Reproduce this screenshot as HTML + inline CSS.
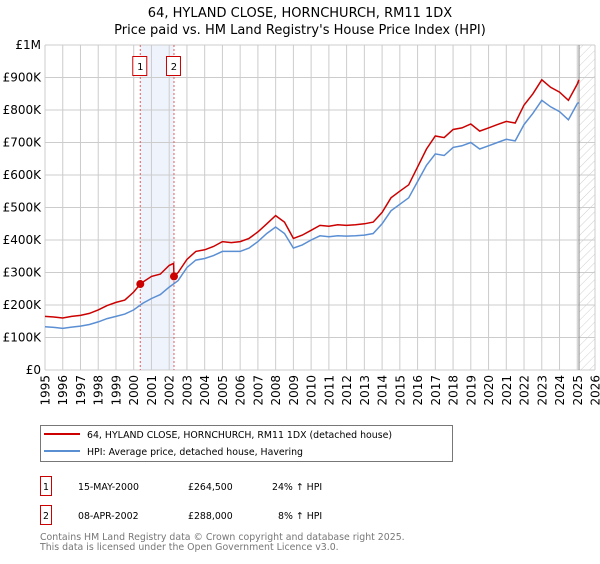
<!DOCTYPE html>
<html><head><meta charset="utf-8">
<style>
body{margin:0;background:#fff;font-family:"DejaVu Sans","Liberation Sans",sans-serif;}
svg text{font-family:"DejaVu Sans","Liberation Sans",sans-serif;}
</style></head>
<body>
<svg id="chart" width="600" height="560" viewBox="0 0 600 560" xmlns="http://www.w3.org/2000/svg">
<defs>
<pattern id="hatch" patternUnits="userSpaceOnUse" width="6" height="6" patternTransform="rotate(45)">
<line x1="0" y1="0" x2="0" y2="6" stroke="#bbb" stroke-width="0.7"/>
</pattern>
</defs>
<text x="300" y="17" text-anchor="middle" font-size="13">64, HYLAND CLOSE, HORNCHURCH, RM11 1DX</text>
<text x="300" y="34" text-anchor="middle" font-size="13">Price paid vs. HM Land Registry's House Price Index (HPI)</text>
<g id="plot"></g>
<g>
<rect x="40.5" y="425.5" width="412" height="36" fill="#fff" stroke="#777"/>
<line x1="44" y1="434" x2="80" y2="434" stroke="#cc0000" stroke-width="2"/>
<text x="87" y="438" font-size="9.4">64, HYLAND CLOSE, HORNCHURCH, RM11 1DX (detached house)</text>
<line x1="44" y1="451" x2="80" y2="451" stroke="#5b8fd4" stroke-width="2"/>
<text x="87" y="455" font-size="9.4">HPI: Average price, detached house, Havering</text>
</g>
<g font-size="9.4">
<rect x="40.5" y="476.5" width="11" height="19" fill="#fff" stroke="#cc0000"/>
<text x="46" y="490" text-anchor="middle">1</text>
<text x="78" y="490">15-MAY-2000</text>
<text x="188" y="490">£264,500</text>
<text x="272" y="490">24% ↑ HPI</text>
<rect x="40.5" y="505.5" width="11" height="19" fill="#fff" stroke="#cc0000"/>
<text x="46" y="519" text-anchor="middle">2</text>
<text x="78" y="519">08-APR-2002</text>
<text x="188" y="519">£288,000</text>
<text x="278" y="519">8% ↑ HPI</text>
</g>
<text x="40" y="540" font-size="9.4" fill="#777">Contains HM Land Registry data © Crown copyright and database right 2025.</text>
<text x="40" y="550" font-size="9.4" fill="#777">This data is licensed under the Open Government Licence v3.0.</text>
</svg>
<script>
const hpiYears=[1995,1995.5,1996,1996.5,1997,1997.5,1998,1998.5,1999,1999.5,2000,2000.5,2001,2001.5,2002,2002.5,2003,2003.5,2004,2004.5,2005,2005.5,2006,2006.5,2007,2007.5,2008,2008.5,2009,2009.5,2010,2010.5,2011,2011.5,2012,2012.5,2013,2013.5,2014,2014.5,2015,2015.5,2016,2016.5,2017,2017.5,2018,2018.5,2019,2019.5,2020,2020.5,2021,2021.5,2022,2022.5,2023,2023.5,2024,2024.5,2025,2025.1];
const hpiValues=[133,131,128,132,135,140,148,158,165,172,185,205,220,232,255,275,315,338,343,352,365,365,365,375,395,420,440,420,375,385,400,413,410,413,412,413,415,420,450,490,510,530,580,630,665,660,685,690,700,680,690,700,710,705,755,790,830,810,795,770,820,823];
const priceYears=[1995,1995.5,1996,1996.5,1997,1997.5,1998,1998.5,1999,1999.5,2000,2000.37,2000.5,2001,2001.5,2002,2002.25,2002.27,2002.5,2003,2003.5,2004,2004.5,2005,2005.5,2006,2006.5,2007,2007.5,2008,2008.5,2009,2009.5,2010,2010.5,2011,2011.5,2012,2012.5,2013,2013.5,2014,2014.5,2015,2015.5,2016,2016.5,2017,2017.5,2018,2018.5,2019,2019.5,2020,2020.5,2021,2021.5,2022,2022.5,2023,2023.5,2024,2024.5,2025,2025.1];
const priceValues=[165,163,160,165,168,174,185,198,208,215,240,264.5,270,288,295,322,328,288,300,340,365,370,380,395,392,395,405,425,450,475,455,405,415,430,445,442,447,445,447,450,455,485,530,550,570,625,680,720,715,740,745,757,735,745,755,765,760,815,850,893,870,855,830,880,893];
const saleYears=[2000.37,2002.27];
const saleValues=[264.5,288];
const saleLabels=["1","2"];
const yTicks=[0,100,200,300,400,500,600,700,800,900,1000];
const yTickLabels=["£0","£100K","£200K","£300K","£400K","£500K","£600K","£700K","£800K","£900K","£1M"];
const xTicks=[1995,1996,1997,1998,1999,2000,2001,2002,2003,2004,2005,2006,2007,2008,2009,2010,2011,2012,2013,2014,2015,2016,2017,2018,2019,2020,2021,2022,2023,2024,2025,2026];
const dataEnd=2025.1;

const L=45,R=595,T=45,B=370;
const xS=y=>L+(y-1995)/(2026-1995)*(R-L);
const yS=v=>B-v/1000*(B-T);
const NS="http://www.w3.org/2000/svg";
const g=document.getElementById('plot');
function mk(t,a,p){const e=document.createElementNS(NS,t);for(const k in a)e.setAttribute(k,a[k]);(p||g).appendChild(e);return e;}

let e=mk('rect',{x:xS(saleYears[0]),y:T,width:xS(saleYears[1])-xS(saleYears[0]),height:B-T,fill:'#eef3fc'});


e=mk('rect',{x:xS(dataEnd),y:T,width:R-xS(dataEnd),height:B-T,fill:'url(#hatch)'});



yTicks.forEach((v,i)=>{
  let l=mk('line',{x1:L,x2:R,y1:yS(v),y2:yS(v),stroke:'#ccc','stroke-width':1});
  
  
  let t=mk('text',{x:L-4,y:yS(v)+4,'text-anchor':'end','font-size':12});
  t.textContent=yTickLabels[i];
  
  
});
xTicks.forEach(y=>{
  let l=mk('line',{x1:xS(y),x2:xS(y),y1:T,y2:B,stroke:'#ccc','stroke-width':1});
  
  
  let t=mk('text',{x:0,y:0,'text-anchor':'end','font-size':12,transform:`translate(${xS(y)+4.5},${B+5}) rotate(-90)`});
  t.textContent=y;
  
  
});
e=mk('line',{x1:xS(dataEnd),x2:xS(dataEnd),y1:T,y2:B,stroke:'#888','stroke-width':1});



saleYears.forEach((y,i)=>{
  let l=mk('line',{x1:xS(y),x2:xS(y),y1:T,y2:B,stroke:'#e06060','stroke-width':1,'stroke-dasharray':'2,2'});
  
  
  let r=mk('rect',{x:xS(y)-7.5,y:56.5,width:14,height:19,fill:'#fff',stroke:'#cc0000'});
  
  
  let t=mk('text',{x:xS(y),y:70,'text-anchor':'middle','font-size':10});
  t.textContent=saleLabels[i];
  
  
});

function path(xs,vs){return xs.map((x,i)=>(i?'L':'M')+xS(x).toFixed(1)+','+yS(vs[i]).toFixed(1)).join('');}
e=mk('path',{d:path(hpiYears,hpiValues),fill:'none',stroke:'#5b8fd4','stroke-width':1.5});


e=mk('path',{d:path(priceYears,priceValues),fill:'none',stroke:'#cc0000','stroke-width':1.5});


saleYears.forEach((y,i)=>{
  let c=mk('circle',{cx:xS(y),cy:yS(saleValues[i]),r:4,fill:'#cc0000'});
  
  
});
</script>
</body></html>
